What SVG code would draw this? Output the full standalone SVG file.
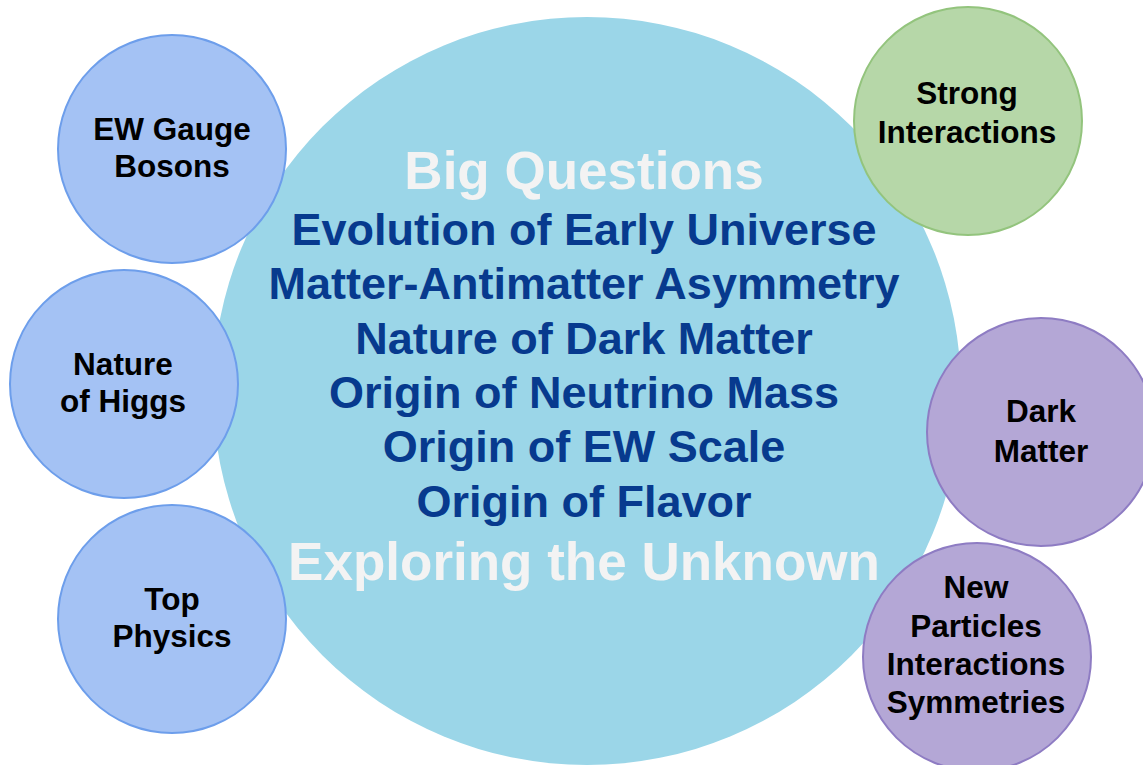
<svg xmlns="http://www.w3.org/2000/svg" width="1143" height="765" viewBox="0 0 1143 765">
<style>
text{font-family:"Liberation Sans",Arial,Helvetica,sans-serif;font-weight:bold;text-anchor:middle}
.big{font-size:53px;fill:#f3f3f3}
.q{font-size:45px;fill:#073a8e}
.lbl{font-size:31.5px;fill:#000000}
.blue{fill:#a4c2f4;stroke:#6d9eeb;stroke-width:2}
.green{fill:#b6d7a8;stroke:#93c47d;stroke-width:2}
.purple{fill:#b4a7d6;stroke:#8e7cc3;stroke-width:2}
</style>
<rect width="1143" height="765" fill="#ffffff"/>
<g id="big-questions">
<circle cx="587" cy="391" r="374" fill="#9bd6e8"/>
</g>
<g id="ew-gauge-bosons">
<circle class="blue" cx="172" cy="149" r="114"/>
<text class="lbl" x="172" y="140">EW Gauge</text>
<text class="lbl" x="172" y="177">Bosons</text>
</g>
<g id="nature-of-higgs">
<circle class="blue" cx="124" cy="384" r="114"/>
<text class="lbl" x="123" y="375">Nature</text>
<text class="lbl" x="123" y="412">of Higgs</text>
</g>
<g id="top-physics">
<circle class="blue" cx="172" cy="619" r="114"/>
<text class="lbl" x="172" y="610">Top</text>
<text class="lbl" x="172" y="647">Physics</text>
</g>
<g id="strong-interactions">
<circle class="green" cx="968" cy="121" r="114"/>
<text class="lbl" x="967" y="104">Strong</text>
<text class="lbl" x="967" y="143">Interactions</text>
</g>
<g id="dark-matter">
<circle class="purple" cx="1041" cy="432" r="114"/>
<text class="lbl" x="1041" y="422">Dark</text>
<text class="lbl" x="1041" y="462">Matter</text>
</g>
<g id="new-particles">
<circle class="purple" cx="977" cy="657" r="114"/>
<text class="lbl" x="976" y="598">New</text>
<text class="lbl" x="976" y="637">Particles</text>
<text class="lbl" x="976" y="675">Interactions</text>
<text class="lbl" x="976" y="713">Symmetries</text>
</g>
<g id="big-questions-text">
<text class="big" x="584" y="189">Big Questions</text>
<text class="q" x="584" y="245">Evolution of Early Universe</text>
<text class="q" x="584" y="299">Matter-Antimatter Asymmetry</text>
<text class="q" x="584" y="354">Nature of Dark Matter</text>
<text class="q" x="584" y="408">Origin of Neutrino Mass</text>
<text class="q" x="584" y="462">Origin of EW Scale</text>
<text class="q" x="584" y="517">Origin of Flavor</text>
<text class="big" x="584" y="580">Exploring the Unknown</text>
</g>
<g id="connectors"/>
</svg>
